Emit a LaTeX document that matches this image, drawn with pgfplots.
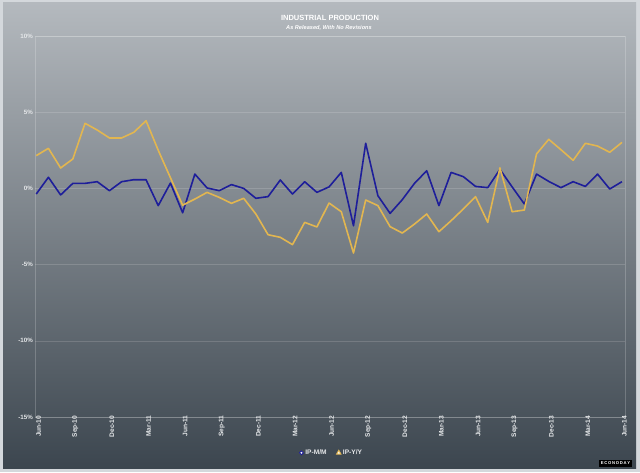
\documentclass[border=0pt]{standalone}
\usepackage{pgfplots}
\pgfplotsset{compat=1.18}
\usepackage{pgfplotstable}
\usepackage{fontspec}
\setmainfont{Liberation Sans}
\definecolor{mmblue}{HTML}{1E1E9A}
\definecolor{yygold}{HTML}{E2B650}
\definecolor{bgtop}{HTML}{B4B9BE}
\definecolor{bgbot}{HTML}{3C464F}
\definecolor{frame}{HTML}{D4D8DC}
\definecolor{lbl}{HTML}{E6E8EA}
\pgfplotstableread{
i mm yy
0 -0.37 2.15
1 0.73 2.63
2 -0.43 1.34
3 0.33 1.93
4 0.33 4.27
5 0.44 3.83
6 -0.15 3.31
7 0.44 3.31
8 0.57 3.68
9 0.57 4.44
10 -1.13 2.50
11 0.35 0.70
12 -1.60 -1.10
13 0.94 -0.70
14 0.03 -0.26
15 -0.15 -0.59
16 0.25 -0.98
17 0.00 -0.65
18 -0.65 -1.68
19 -0.54 -3.04
20 0.55 -3.21
21 -0.37 -3.69
22 0.44 -2.23
23 -0.26 -2.53
24 0.10 -0.96
25 1.05 -1.53
26 -2.45 -4.24
27 2.96 -0.76
28 -0.48 -1.13
29 -1.64 -2.51
30 -0.74 -2.93
31 0.33 -2.34
32 1.16 -1.68
33 -1.13 -2.84
34 1.05 -2.12
35 0.77 -1.35
36 0.13 -0.54
37 0.05 -2.23
38 1.25 1.35
39 0.10 -1.53
40 -1.02 -1.42
41 0.94 2.26
42 0.46 3.22
43 0.05 2.54
44 0.44 1.84
45 0.13 2.96
46 0.94 2.78
47 -0.04 2.37
48 0.44 3.02
}\data
\begin{document}
\begin{tikzpicture}[x=1pt,y=1pt]
\fill[frame] (0,0) rectangle (640,472);
\shade[top color=bgtop, bottom color=bgbot] (3,4) rectangle (636,469);
\node[font=\bfseries\fontsize{7.5}{8}\selectfont, text=white] at (330,454.5) {INDUSTRIAL PRODUCTION};
\node[font=\bfseries\itshape\fontsize{5.6}{6}\selectfont, text=white] at (329,444.5) {As Released, With No Revisions};
\begin{axis}[
  at={(35pt,55pt)}, anchor=south west,
  scale only axis, width=590pt, height=381pt,
  xmin=-0.1, xmax=48.25, ymin=-15, ymax=10,
  axis line style={white, opacity=0.2, line width=0.6pt},
  ytick={-15,-10,-5,0,5,10},
  yticklabels={-15\%,-10\%,-5\%,0\%,5\%,10\%},
  xtick={0,3,...,48},
  xticklabels={Jun-10,Sep-10,Dec-10,Mar-11,Jun-11,Sep-11,Dec-11,Mar-12,Jun-12,Sep-12,Dec-12,Mar-13,Jun-13,Sep-13,Dec-13,Mar-14,Jun-14},
  major tick length=0pt,
  ymajorgrids, grid style={white, opacity=0.15, line width=0.6pt},
  tick label style={font=\bfseries\fontsize{6.2}{7}\selectfont, text=lbl},
  yticklabel style={anchor=east, inner sep=1pt, xshift=-1pt},
  xticklabel style={rotate=90, anchor=east, inner sep=1pt, yshift=-2.5pt, xshift=2.5pt, font=\bfseries\fontsize{6.6}{7}\selectfont},
  legend style={at={(0.503,-0.094)}, anchor=center, draw=none, fill=none,
    font=\bfseries\fontsize{6.6}{7}\selectfont, text=lbl,
    /tikz/every even column/.append style={column sep=8pt}},
  legend columns=2,
  legend cell align=left,
]
\addplot[mmblue, line width=1.6pt, line join=round, forget plot] table[x=i, y=mm] {\data};
\addplot[yygold, line width=1.6pt, line join=round, forget plot] table[x=i, y=yy] {\data};
\addlegendimage{only marks, mark=*, mark size=1.9pt, mark options={draw=mmblue, fill=white, line width=0.9pt}}
\addlegendentry{IP-M/M}
\addlegendimage{only marks, mark=triangle*, mark size=2.5pt, mark options={draw=yygold, fill=white, line width=0.9pt}}
\addlegendentry{IP-Y/Y}
\end{axis}
\node[fill=black, text=white, font=\bfseries\fontsize{4.2}{5}\selectfont, inner sep=1.6pt] at (615.5,8.5) {E\,C\,O\,N\,O\,D\,A\,Y};
\end{tikzpicture}
\end{document}
